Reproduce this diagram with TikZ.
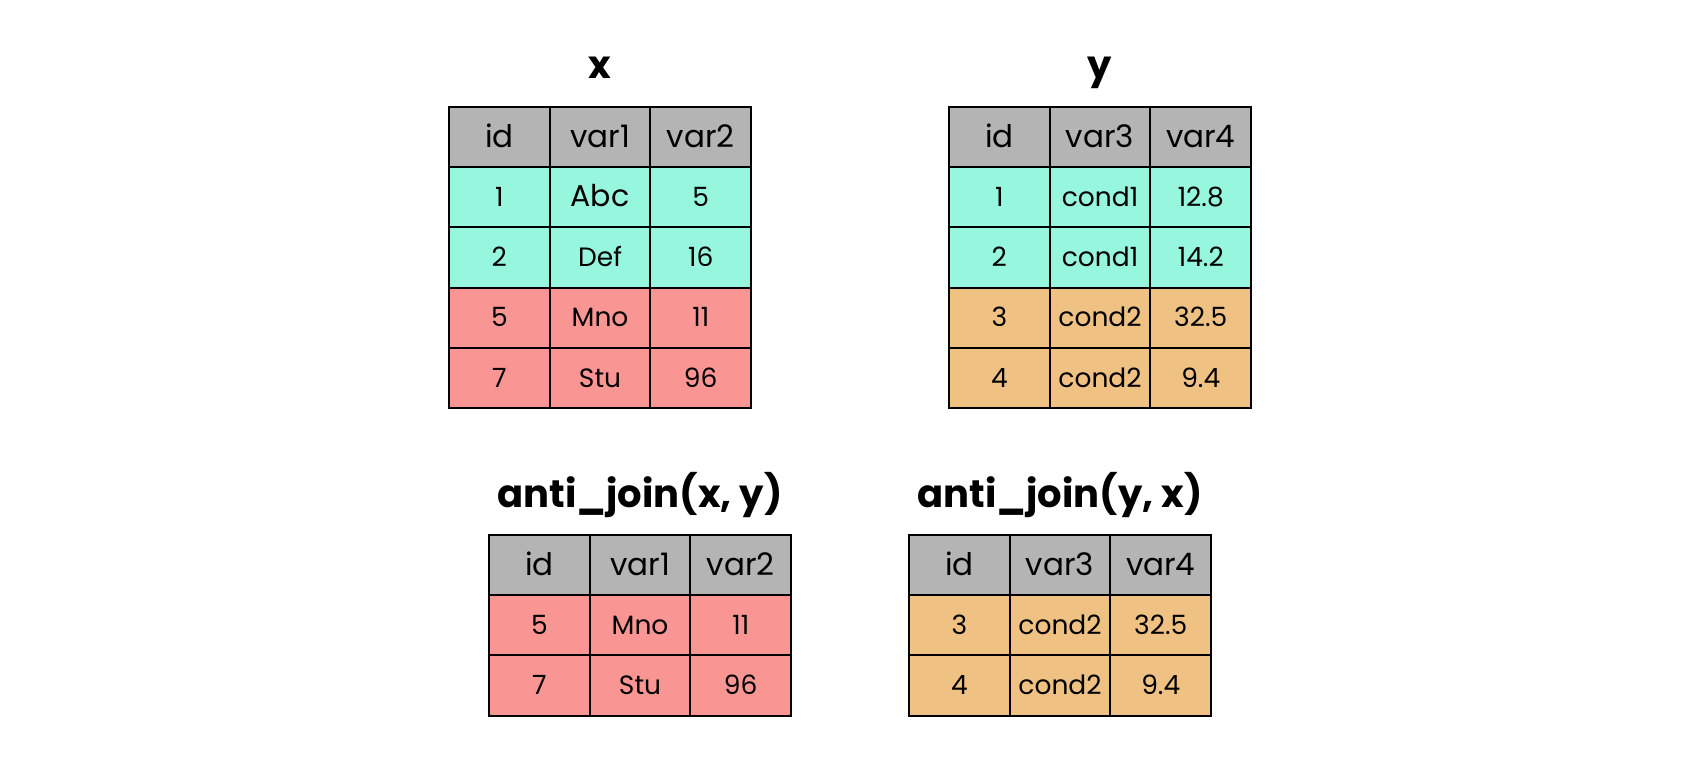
\documentclass[tikz,border=0pt]{standalone}
\usepackage{fontspec}
\setmainfont{Poppins}
\definecolor{cgray}{RGB}{180,180,180}
\definecolor{cteal}{RGB}{150,246,222}
\definecolor{cred}{RGB}{249,150,148}
\definecolor{corange}{RGB}{239,194,131}
\tikzset{
  cellbox/.style={draw=black, line width=2pt, minimum width=100.7pt, minimum height=60.2pt,
    inner sep=0pt, text height=18.5pt, text depth=0pt, font=\fontsize{26.5}{30}\selectfont},
  hdrbox/.style={cellbox, fill=cgray, text height=21.5pt, font=\fontsize{31}{36}\selectfont},
  ttl/.style={anchor=base, inner sep=0pt, font=\fontsize{38.5}{46}\selectfont\bfseries},
}
\begin{document}
\begin{tikzpicture}[x=1pt,y=-1pt]
\useasboundingbox[fill=white] (0,0) rectangle (1700,756);
% ---------- table x ----------
\node[ttl] (tx) at (600,78) {x};
\foreach \t [count=\c from 0] in {id,var1,var2}
  \node[hdrbox] (x-0-\c) at ({449+100.7*\c+50.35},137.1) {\t};
\foreach \a/\b/\d/\col [count=\r] in {1/{\fontsize{30}{34}\selectfont Abc}/5/cteal, 2/Def/16/cteal, 5/Mno/11/cred, 7/Stu/96/cred}{
  \node[cellbox,fill=\col] (x-\r-0) at (499.35,{137.1+60.2*\r}) {\a};
  \node[cellbox,fill=\col] (x-\r-1) at (600.05,{137.1+60.2*\r}) {\b};
  \node[cellbox,fill=\col] (x-\r-2) at (700.75,{137.1+60.2*\r}) {\d};
}
% ---------- table y ----------
\node[ttl] (ty) at (1100,78) {y};
\foreach \t [count=\c from 0] in {id,var3,var4}
  \node[hdrbox] (y-0-\c) at ({949+100.7*\c+50.35},137.1) {\t};
\foreach \a/\b/\d/\col [count=\r] in {1/cond1/12.8/cteal, 2/cond1/14.2/cteal, 3/cond2/32.5/corange, 4/cond2/9.4/corange}{
  \node[cellbox,fill=\col] (y-\r-0) at (999.35,{137.1+60.2*\r}) {\a};
  \node[cellbox,fill=\col] (y-\r-1) at (1100.05,{137.1+60.2*\r}) {\b};
  \node[cellbox,fill=\col] (y-\r-2) at (1200.75,{137.1+60.2*\r}) {\d};
}
% ---------- anti_join(x, y) ----------
\node[ttl] (txy) at (640,507) {anti\_join(x, y)};
\foreach \t [count=\c from 0] in {id,var1,var2}
  \node[hdrbox] (a-0-\c) at ({489+100.7*\c+50.35},565.1) {\t};
\foreach \a/\b/\d/\col [count=\r] in {5/Mno/11/cred, 7/Stu/96/cred}{
  \node[cellbox,fill=\col] (a-\r-0) at (539.35,{565.1+60.2*\r}) {\a};
  \node[cellbox,fill=\col] (a-\r-1) at (640.05,{565.1+60.2*\r}) {\b};
  \node[cellbox,fill=\col] (a-\r-2) at (740.75,{565.1+60.2*\r}) {\d};
}
% ---------- anti_join(y, x) ----------
\node[ttl] (tyx) at (1060,507) {anti\_join(y, x)};
\foreach \t [count=\c from 0] in {id,var3,var4}
  \node[hdrbox] (b-0-\c) at ({909+100.7*\c+50.35},565.1) {\t};
\foreach \a/\b/\d/\col [count=\r] in {3/cond2/32.5/corange, 4/cond2/9.4/corange}{
  \node[cellbox,fill=\col] (b-\r-0) at (959.35,{565.1+60.2*\r}) {\a};
  \node[cellbox,fill=\col] (b-\r-1) at (1060.05,{565.1+60.2*\r}) {\b};
  \node[cellbox,fill=\col] (b-\r-2) at (1160.75,{565.1+60.2*\r}) {\d};
}
\end{tikzpicture}
\end{document}
